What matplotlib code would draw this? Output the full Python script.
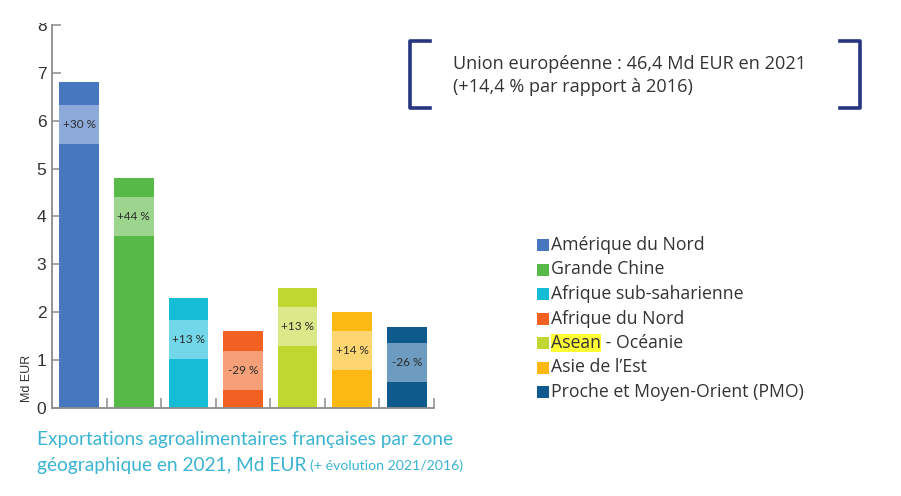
import numpy as np
import matplotlib.pyplot as plt
from matplotlib.patches import Rectangle

zones = ["Amérique du Nord", "Grande Chine", "Afrique sub-saharienne", "Afrique du Nord",
         "Asean - Océanie", "Asie de l’Est", "Proche et Moyen-Orient (PMO)"]
valeurs = [6.8, 4.8, 2.3, 1.6, 2.5, 2.0, 1.7]
evolution = ["+30 %", "+44 %", "+13 %", "-29 %", "+13 %", "+14 %", "-26 %"]
bande_bas = [5.51, 3.59, 1.02, 0.38, 1.30, 0.80, 0.55]
bande_haut = [6.33, 4.40, 1.84, 1.19, 2.11, 1.61, 1.36]

couleurs = ["#4677BF", "#57B947", "#14BCD6", "#F26122", "#BFD730", "#FDB913", "#0F5A8C"]
claires = ["#8EAADB", "#9DD58F", "#72D7E8", "#F6A07A", "#DCE98A", "#FDD671", "#6D9CC0"]

plt.rcParams['font.family'] = ['Open Sans', 'DejaVu Sans']

W, H = 901, 496
fig = plt.figure(figsize=(W / 100, H / 100), dpi=100)
ax = fig.add_axes([52/W, 88/H, 382/W, 383/H])

x = np.arange(len(zones))
w = 0.73
bas = np.array(bande_bas)
haut = np.array(bande_haut)
tot = np.array(valeurs)

ax.bar(x, bas, w, color=couleurs, zorder=2)
ax.bar(x, haut - bas, w, bottom=bas, color=claires, zorder=2)
ax.bar(x, tot - haut, w, bottom=haut, color=couleurs, zorder=2)

for i in range(len(zones)):
    ax.text(x[i], (bas[i] + haut[i]) / 2, evolution[i], ha='center', va='center',
            fontsize=8.5, color='#2b2b2b', zorder=3, family='Lato')

ax.set_xlim(-0.5, 6.5)
ax.set_ylim(0, 8)
ax.set_yticks(range(0, 9))
ax.set_xticks(np.arange(0.5, 7, 1))
ax.set_xticklabels([])
for s in ['top', 'right']:
    ax.spines[s].set_visible(False)
for s in ['left', 'bottom']:
    ax.spines[s].set_color('#8c8c8c')
    ax.spines[s].set_linewidth(1.3)
ax.tick_params(axis='y', direction='in', length=6.5, width=1.1, color='#8c8c8c',
               labelsize=12.5, labelcolor='#333333', pad=4)
ax.tick_params(axis='x', direction='in', length=7, width=1.1, color='#8c8c8c')
for lab in ax.get_yticklabels():
    lab.set_family('Liberation Sans')

fig.text(27/W, 1 - 378/H, "Md EUR", rotation=90, ha='center', va='center',
         fontsize=9, color='#333333', family='Liberation Sans')

# masque en haut (le "8" est coupé)
fig.patches.append(Rectangle((0, 1 - 22.5/H), 0.2, 22.5/H, transform=fig.transFigure,
                             facecolor='white', edgecolor='none', zorder=10))

# légende (construite à la main pour surligner "Asean")
gris = '#333333'
fs_leg = 12.7
fig.canvas.draw()
for i, (nom, c) in enumerate(zip(zones, couleurs)):
    yc = 245 + i * 24.5
    fig.patches.append(Rectangle((537/W, 1 - (yc + 6)/H), 12/W, 12/H,
                                 transform=fig.transFigure, facecolor=c, edgecolor='none'))
    if nom.startswith("Asean"):
        ta = fig.text(551/W, 1 - yc/H, "Asean", ha='left', va='center', fontsize=fs_leg,
                      color=gris, bbox=dict(facecolor='#FFFF33', edgecolor='none', pad=0.3))
        fig.canvas.draw()
        bb = ta.get_window_extent()
        fig.text(bb.x1 / W, 1 - yc/H, " - Océanie", ha='left', va='center', fontsize=fs_leg,
                 color=gris)
    else:
        fig.text(551/W, 1 - yc/H, nom, ha='left', va='center', fontsize=fs_leg, color=gris)

# encadré UE
navy = '#26357F'
for x0, sens in [(410/W, 1), (860/W, -1)]:
    fig.lines.append(plt.Line2D([x0 + sens * 20/W, x0, x0, x0 + sens * 20/W],
                                [1 - 41/H, 1 - 41/H, 1 - 108/H, 1 - 108/H],
                                transform=fig.transFigure, color=navy, lw=2.6))
fig.text(453/W, 1 - 64/H, "Union européenne : 46,4 Md EUR en 2021", ha='left', va='center',
         fontsize=13.1, color=gris)
fig.text(453/W, 1 - 87/H, "(+14,4 % par rapport à 2016)", ha='left', va='center',
         fontsize=13.1, color=gris)

# titre
cyan = '#3BB4D2'
fig.text(37/W, 1 - 440/H, "Exportations agroalimentaires françaises par zone", ha='left',
         va='center', fontsize=13.8, color=cyan, family='Lato')
t2 = fig.text(37/W, 1 - 465/H, "géographique en 2021, Md EUR", ha='left', va='center',
              fontsize=13.8, color=cyan, family='Lato')
fig.canvas.draw()
bb2 = t2.get_window_extent()
fig.text(bb2.x1 / W + 4/W, 1 - 466/H, "(+ évolution 2021/2016)", ha='left', va='center',
         fontsize=10.2, color=cyan, family='Lato')

fig.savefig("out.png", dpi=100)
